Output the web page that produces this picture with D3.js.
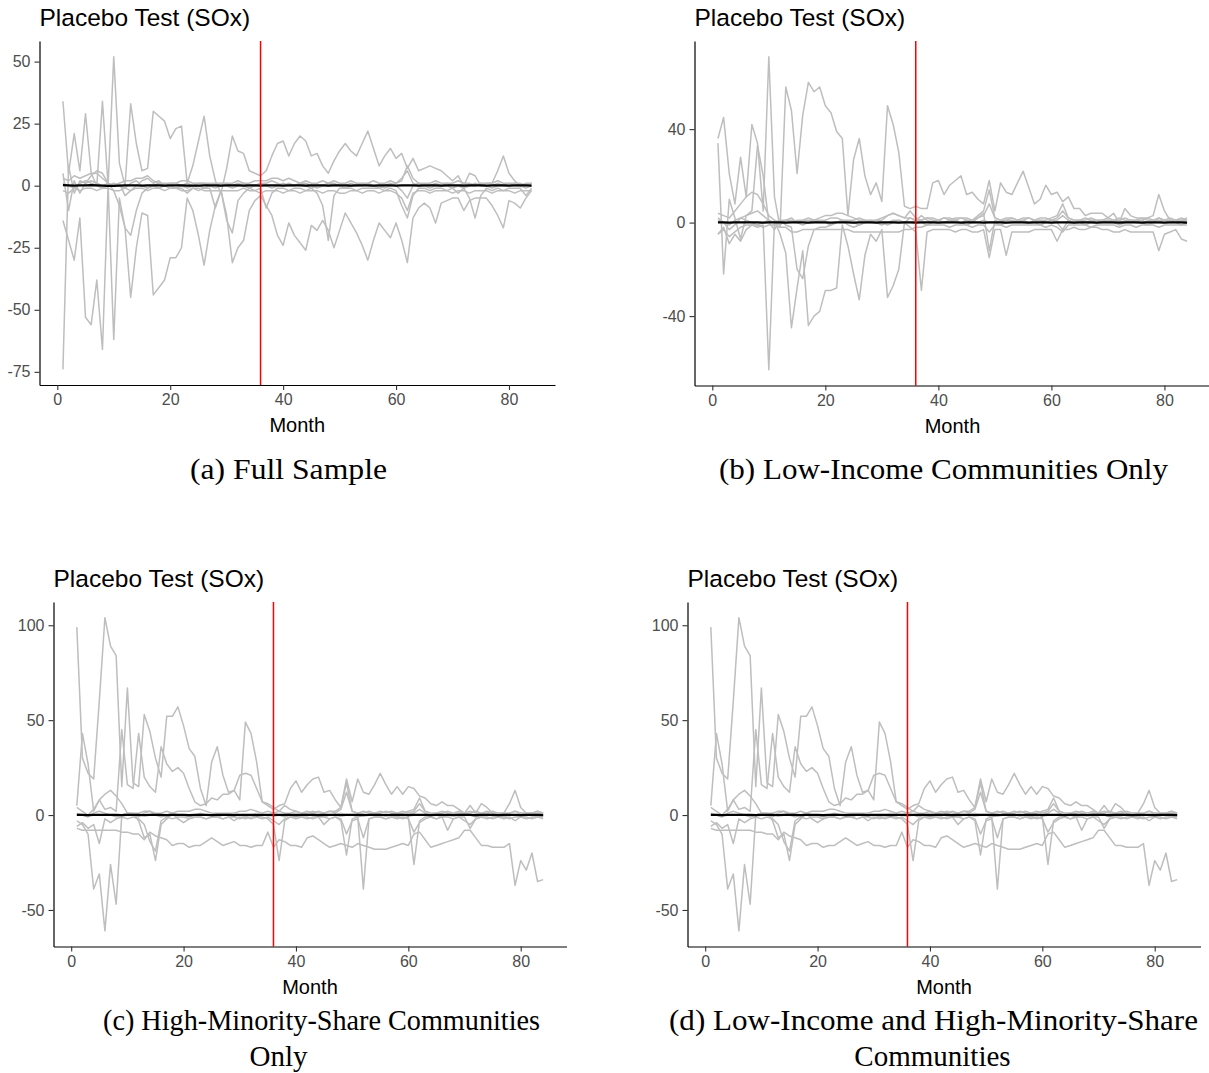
<!DOCTYPE html>
<html><head><meta charset="utf-8">
<script src="https://cdn.jsdelivr.net/npm/d3@7"></script>
<style>body{margin:0;background:#fff}svg{display:block}</style>
</head><body>
<script>
// ---------- data ----------
const months = d3.range(1, 85);
const xTicks = [0, 20, 40, 60, 80];
const yTicksA = [-75, -50, -25, 0, 25, 50];
const yTicksB = [-40, 0, 40];
const yTicksC = [-50, 0, 50, 100];
const treatedMonth = 36;

// Panel (a) Full sample – placebo units
const a1 = [34,5,21,6,29,5,0,34,0,52, 9,0,33,17,6,7,30,28,26,19, 23,24,1,8,18,28,12,2,-3,7, 20,14,13,6,5,4,6,12,17,18, 12,17,20,18,12,13,8,5,10,14, 17,14,12,17,22,15,8,12,15,11, 13,7,11,6,7,8,7,6,4,2, 4,0,5,4,0,1,1,6,12,5, 2,0,1,1];
const a2 = [-14,-22,-30,-13,-53,-56,-38,-66,0,-62, -5,-17,-45,-25,-11,-12,-44,-41,-38,-29, -29,-25,-5,-10,-20,-32,-18,-8,-2,-12, -31,-25,-22,-10,-6,-4,-8,-12,-20,-24, -15,-20,-23,-26,-16,-18,-14,-18,-25,-18, -11,-15,-19,-24,-30,-22,-15,-18,-21,-15, -22,-31,-13,-9,-7,-9,-15,-7,-6,-5, -5,-10,-6,-5,-5,-5,-8,-12,-17,-6, -7,-9,-5,-2];
const a3 = [-74,8,-3,2,1,4,6,5,1,0, 1,-4,-2,0,2,3,1,2,0,1, 1,0,-1,0,1,1,0,-1,0,1, 0,1,0,-1,0,1,1,2,1,0, 1,0,1,1,0,-1,0,1,1,0, 0,1,0,0,1,0,-1,0,1,0, -2,-5,0,1,0,0,1,0,0,-1, 0,1,0,0,1,0,0,1,0,0, 1,0,0,1];
const a4 = [5,-10,2,-3,1,2,1,0,1,-2, -8,-17,-20,-10,-3,-1,0,-1,0,-1, -1,-1,-3,-1,-2,-1,-1,-9,-2,-14, -19,-6,-3,-1,-2,-1,-9,-3,-1,-1, -2,-1,-1,-2,-1,-3,-8,-22,-4,-1, -1,-1,-2,-1,-1,-1,-1,-2,-1,-2, -8,-13,-4,-1,-1,-2,-1,-1,-2,-1, -3,-1,-5,-13,-4,-1,-2,-1,-2,-1, -1,-1,-4,-1];
const a5 = [3,2,4,3,4,5,5,3,1,0, 1,2,2,3,3,4,2,1,1,1, 1,2,2,1,1,1,1,1,1,1, 1,2,1,1,2,2,2,3,3,2, 3,2,1,2,1,1,2,1,2,1, 1,2,1,1,1,2,1,1,2,1, 2,8,3,1,1,1,2,1,1,1, 2,1,1,0,1,1,1,2,1,1, 1,1,0,1];
const a6 = [-2,-3,-1,-2,-1,-1,-2,-1,-1,-2, -2,-1,-2,-1,-1,-2,-1,-1,-2,-1, -1,-2,-2,-1,-1,-2,-2,-2,-2,-2, -2,-2,-1,-2,-2,-3,-2,-2,-2,-3, -2,-2,-3,-2,-2,-2,-3,-2,-2,-3, -3,-2,-2,-3,-2,-2,-3,-2,-2,-3, -5,-10,-3,-2,-2,-3,-2,-2,-2,-3, -2,-2,-3,-2,-2,-2,-3,-2,-2,-2, -3,-2,-2,-2];
const a7 = [1,0,-1,1,2,1,0,-1,0,1, 0,-1,1,2,0,-1,0,1,0,0, -1,0,1,0,0,-1,0,0,1,0, -1,0,1,0,0,1,0,-1,0,1, 0,0,1,0,-1,0,0,1,0,0, -1,0,0,1,0,0,0,-1,0,1, 3,6,1,0,0,-1,0,0,1,0, 0,-1,0,1,0,0,-1,0,0,1, 0,0,-1,0];
const aTreated = [0.2,0.1,0,0.1,0.1,0.2,0.1,0,-0.1,-0.1, 0,0.1,0.1,0.1,0,0.1,0.1,0.1,0,0.1, 0.1,0.1,0,0,0,0.1,0.1,0.1,0,0.1, 0.1,0.1,0,0.1,0.1,0, 0.1,0.1,0.1,0, 0.1,0.1,0.1,0,0.1,0.1,0.1,0,0.1,0.1, 0.1,0,0.1,0.1,0.1,0,0.1,0.1,0.1,0, 0.1,0.1,0.1,0,0.1,0.1,0.1,0,0.1,0.1, 0.1,0,0.1,0.1,0.1,0,0.1,0.1,0.1,0, 0.1,0.1,0.1,0];

// Panel (b) Low-income communities only
const b1 = [36,45,21,8,28,11,42,34,5,71, 11,-2,58,48,21,46,60,56,58,50, 47,39,36,3,27,36,20,12,17,9, 50,42,30,7,6,7,6,6,17,18, 12,16,18,20,12,13,10,8,18,5, 17,13,12,17,22,15,8,10,16,12, 13,9,11,6,6,3,4,4,4,2, 4,0,6,3,2,2,2,3,12,5, 1,1,1,1];
const b2 = [-5,-2,-9,-5,-8,-3,-1,-2,-1,-63, 1,-5,-13,-45,-28,-12,-44,-40,-38,-29, -29,-28,-1,-10,-22,-33,-14,-5,-8,-3, -32,-27,-20,0,-2,-4,-29,-4,-3,-3, -3,-3,-4,-3,-3,-4,-4,-3,-15,-3, -3,-14,-4,-4,-4,-4,-3,-3,-3,-3, -8,-3,-3,-2,-3,-3,-2,-2,-3,-3, -4,-4,-3,-4,-4,-4,-4,-4,-12,-5, -4,-3,-7,-8];
const b3 = [34,-22,10,2,-7,3,5,33,20,0, -3,1,-1,-2,-20,-24,-10,-3,-2,-2, -1,0,1,-1,-2,-1,0,1,0,-1, 0,1,1,0,2,1,3,1,0,1, 0,1,1,0,1,0,2,4,-12,1, 0,1,1,0,1,0,1,1,0,1, 0,-3,1,0,1,0,1,0,0,1, 0,1,0,1,0,1,0,0,2,1, 0,1,0,1];
const b4 = [4,3,2,5,8,11,13,12,8,3, 1,0,1,0,1,1,2,1,1,1, 2,2,1,1,1,2,1,0,1,1, 3,4,3,2,5,2,1,2,1,1, 2,1,2,2,1,1,3,5,14,2, 1,1,2,1,1,2,1,1,1,2, 3,8,2,1,1,1,2,1,1,1, 1,2,1,1,1,2,1,1,2,1, 1,1,2,1];
const b5 = [2,0,-3,-1,2,3,4,5,3,1, 0,1,1,1,0,1,1,1,2,3, 3,4,4,3,2,1,1,1,1,2, 3,4,3,2,2,1,1,2,2,1, 2,2,1,2,2,1,2,3,8,2, 1,2,2,1,2,2,1,2,2,1, 2,5,2,1,1,2,1,1,1,2, 1,1,2,1,1,1,2,1,1,1, 2,1,1,2];
const b6 = [-5,-3,-6,-4,-2,-1,-1,-1,-2,-1, -1,-2,-2,-4,-4,-3,-3,-3,-3,-3, -3,-3,-3,-3,-4,-4,-4,-4,-4,-4, -4,-4,-4,-3,-3,-2,-2,-1,-1,-1, -1,-2,-1,-1,-1,-2,-1,-1,-4,-1, -1,-2,-1,-1,-1,-1,-1,-1,-2,-1, -2,-4,-1,-1,-1,-1,-2,-1,-1,-1, -1,-2,-1,-1,-2,-1,-1,-1,-2,-1, -1,-1,-1,-1];
const b7 = [1,0,-1,1,2,1,0,-1,0,1, 0,-1,1,2,0,-1,0,1,0,0, -1,0,1,0,0,-1,0,0,1,0, -1,0,1,0,0,1,0,-1,0,1, 0,0,1,0,-1,0,0,1,0,0, -1,0,0,1,0,0,0,-1,0,1, 1,3,1,0,0,-1,0,0,1,0, 0,-1,0,1,0,0,-1,0,0,1, 0,0,-1,0];
const bTreated = [0.1,0.1,0,0.1,0.1,0.1,0.1,0.1,0,0.1, 0.1,0.1,0,0.1,0.1,0.1,0,0.1,0.1,0.1, 0,0.1,0.1,0.1,0,0.1,0.1,0.1,0,0.1, 0.1,0.1,0,0.1,0.1,0, 0.1,0.1,0.1,0, 0.1,0.1,0.1,0,0.1,0.1,0.1,0,0.1,0.1, 0.1,0,0.1,0.1,0.1,0,0.1,0.1,0.1,0, 0.1,0.1,0.1,0,0.1,0.1,0.1,0,0.1,0.1, 0.1,0,0.1,0.1,0.1,0,0.1,0.1,0.1,0, 0.1,0.1,0.1,0];

// Panels (c) and (d) High-minority-share communities
const c1 = [99,30,22,19,60,104,89,84,15,67, 17,15,53,44,30,20,52,52,57,47, 35,31,14,5,28,36,21,12,13,8, 49,43,28,7,5,3,5,6,14,18, 12,16,19,20,12,13,8,4,19,7, 19,12,11,16,22,16,11,15,11,15, 14,10,9,6,5,7,5,5,3,1, 5,1,6,4,1,1,1,6,13,4, 1,1,1,1];
const c2 = [5,43,27,2,8,3,4,2,45,16, 14,43,20,15,12,36,27,23,25,22, 14,7,5,6,9,8,11,11,13,21, 22,21,14,7,6,4,2,5,3,2, 1,2,1,2,1,2,1,3,12,2, 1,2,1,1,2,1,2,1,1,2, 3,9,2,1,1,2,1,1,2,1, 1,2,1,1,2,1,1,1,2,1, 1,1,2,1];
const c3 = [-3,-5,-10,-39,-31,-61,-26,-47,0,1, 1,-3,-12,-10,-24,-5,-2,1,-2,-4, -2,-1,-1,-2,-1,-1,-2,-1,-1,-2, -1,-2,-1,-1,-2,-5,-24,-3,-1,-1, -1,-1,-2,-1,-1,-2,-1,-3,-21,-2, -1,-39,-2,-1,-1,-2,-1,-1,-2,-1, -26,-3,-1,-1,-2,-1,-1,-2,-1,-1, -7,-2,-1,-1,-2,-1,-1,-2,-1,-1, -1,-2,-1,-1];
const c4 = [-7,-8,-8,-8,-8,-8,-8,-8,-9,-9, -10,-10,-13,-9,-11,-12,-13,-16,-15,-15, -17,-16,-16,-14,-12,-14,-16,-15,-14,-16, -16,-17,-16,-16,-9,-17,-13,-14,-16,-16, -17,-12,-11,-13,-15,-17,-16,-15,-16,-17, -15,-16,-17,-18,-18,-18,-17,-16,-15,-16, -10,-9,-13,-17,-16,-15,-14,-13,-12,-8, -8,-12,-16,-16,-17,-17,-17,-15,-37,-24, -29,-20,-35,-34];
const c5 = [4,2,0,3,8,11,13,10,6,1, 1,1,2,2,1,1,2,1,2,2, 2,3,3,2,1,1,1,1,1,2, 2,3,2,1,2,1,2,1,1,2, 1,1,2,1,1,2,2,4,17,2, 1,1,2,1,1,2,1,1,2,1, 2,6,2,1,1,1,2,1,1,1, 2,1,1,2,1,1,1,1,2,1, 1,1,2,1];
const c6 = [-6,-4,-7,-5,-15,-2,-4,-2,-1,-2, -1,-2,-5,-14,-19,-3,-1,-2,-1,-1, -2,-1,-1,-2,-1,-1,-2,-1,-3,-1, -2,-1,-1,-2,-1,-3,-5,-2,-1,-2, -1,-2,-1,-1,-5,-2,-1,-2,-10,-3, -2,-12,-2,-1,-1,-2,-1,-2,-1,-2, -9,-4,-2,-1,-2,-1,-8,-2,-1,-3, -5,-2,-1,-2,-1,-1,-2,-1,-3,-1, -2,-1,-1,-2];
const c7 = [1,0,-1,1,2,1,0,-1,0,1, 0,-1,1,2,0,-1,0,1,0,0, -1,0,1,0,0,-1,0,0,1,0, -1,0,1,0,0,1,0,-1,0,1, 0,0,1,0,-1,0,0,1,0,0, -1,0,0,1,0,0,0,-1,0,1, 1,3,1,0,0,-1,0,0,1,0, 0,-1,0,1,0,0,-1,0,0,1, 0,0,-1,0];
const cTreated = [0.1,0.1,0,0.1,0.1,0.1,0.1,0.1,0,0.1, 0.1,0.1,0,0.1,0.1,0.1,0,0.1,0.1,0.1, 0,0.1,0.1,0.1,0,0.1,0.1,0.1,0,0.1, 0.1,0.1,0,0.1,0.1,0, 0.1,0.1,0.1,0, 0.1,0.1,0.1,0,0.1,0.1,0.1,0,0.1,0.1, 0.1,0,0.1,0.1,0.1,0,0.1,0.1,0.1,0, 0.1,0.1,0.1,0,0.1,0.1,0.1,0,0.1,0.1, 0.1,0,0.1,0.1,0.1,0,0.1,0.1,0.1,0, 0.1,0.1,0.1,0];

const titleText = "Placebo Test (SOx)";
const xTitle = "Month";
const captionsA = ["(a) Full Sample"];
const captionsB = ["(b) Low-Income Communities Only"];
const captionsC = ["(c) High-Minority-Share Communities", "Only"];
const captionsD = ["(d) Low-Income and High-Minority-Share", "Communities"];

// ---------- layout ----------
const W = 1209, H = 1073;
const svg = d3.select("body").append("svg").attr("width", W).attr("height", H)
  .style("background", "#fff");

const panels = [
  {left: 39.5, top: 41, w: 515.5, h: 344, series: [a1,a2,a3,a4,a5,a6,a7], treated: aTreated, yTicks: yTicksA, caps: captionsA, capX: [288.5], capY: [479], capW: [197]},
  {left: 694.5, top: 41, w: 516, h: 344.5, series: [b1,b2,b3,b4,b5,b6,b7], treated: bTreated, yTicks: yTicksB, caps: captionsB, capX: [943.5], capY: [479], capW: [449]},
  {left: 53.5, top: 602, w: 513, h: 344.5, series: [c1,c2,c3,c4,c5,c6,c7], treated: cTreated, yTicks: yTicksC, caps: captionsC, capX: [321.5, 278.5], capY: [1030, 1066], capW: [437, null]},
  {left: 687.5, top: 602, w: 513, h: 344.5, series: [c1,c2,c3,c4,c5,c6,c7], treated: cTreated, yTicks: yTicksC, caps: captionsD, capX: [933.5, 932.5], capY: [1030, 1066], capW: [529, null]}
];

const sans = "'Liberation Sans', Arial, sans-serif";

panels.forEach(p => {
  const g = svg.append("g").attr("transform", `translate(${p.left},${p.top})`);
  const xr = [1, 84], xs = (xr[1] - xr[0]) * 0.05;
  const x = d3.scaleLinear().domain([xr[0] - xs, xr[1] + xs]).range([0, p.w]);
  const all = p.series.flat().concat(p.treated);
  const ext = d3.extent(all), ys = (ext[1] - ext[0]) * 0.05;
  const y = d3.scaleLinear().domain([ext[0] - ys, ext[1] + ys]).range([p.h, 0]);

  const line = d3.line().x((d, i) => x(months[i])).y(d => y(d));

  g.selectAll("path.placebo").data(p.series).enter().append("path")
    .attr("class", "placebo").attr("d", line)
    .attr("fill", "none").attr("stroke", "#BEBEBE").attr("stroke-width", 1.5)
    .attr("stroke-linejoin", "round");

  g.append("path").attr("d", line(p.treated))
    .attr("fill", "none").attr("stroke", "#000").attr("stroke-width", 2.2);

  g.append("line").attr("x1", x(treatedMonth)).attr("x2", x(treatedMonth))
    .attr("y1", 0).attr("y2", p.h).attr("stroke", "#FF0000").attr("stroke-width", 1.5);

  const fmt = d => String(d);
  const xa = g.append("g").attr("transform", `translate(0,${p.h})`)
    .call(d3.axisBottom(x).tickValues(xTicks).tickFormat(fmt).tickSize(5).tickSizeOuter(0).tickPadding(4));
  const ya = g.append("g")
    .call(d3.axisLeft(y).tickValues(p.yTicks).tickFormat(fmt).tickSize(5).tickSizeOuter(0).tickPadding(4));
  [xa, ya].forEach(a => {
    a.select(".domain").attr("stroke", "#000").attr("stroke-width", 1.2);
    a.selectAll(".tick line").attr("stroke", "#333").attr("stroke-width", 1.1);
    a.selectAll(".tick text").attr("fill", "#4D4D4D")
      .style("font-family", sans).style("font-size", "16px");
  });

  g.append("text").attr("x", 0).attr("y", -15).text(titleText)
    .style("font-family", sans).style("font-size", "24.5px").attr("fill", "#000");
  g.append("text").attr("x", p.w / 2).attr("y", p.h + 47).attr("text-anchor", "middle").text(xTitle)
    .style("font-family", sans).style("font-size", "20px").attr("fill", "#000");

  p.caps.forEach((c, i) => {
    const t = svg.append("text").attr("x", p.capX[i]).attr("y", p.capY[i]).attr("text-anchor", "middle").text(c)
      .style("font-family", "'Liberation Serif', 'Times New Roman', serif").style("font-size", "29px").attr("fill", "#000");
    if (p.capW[i]) t.attr("textLength", p.capW[i]).attr("lengthAdjust", "spacingAndGlyphs");
  });
});
</script>
</body></html>
